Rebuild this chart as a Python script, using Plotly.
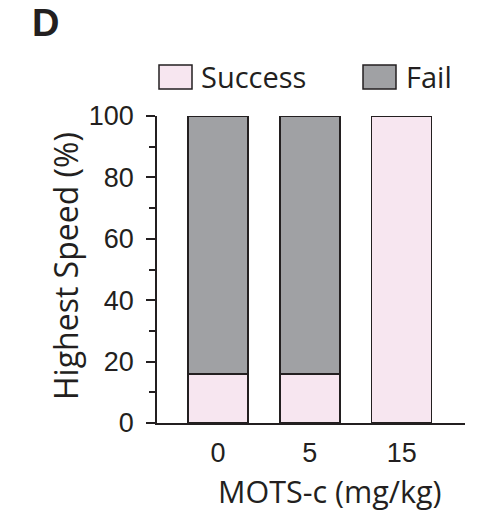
import plotly.graph_objects as go

# Dose groups and outcome percentages
doses = ["0", "5", "15"]
success_pct = [16, 16, 100]
fail_pct = [84, 84, 0]
y_ticks = [0, 20, 40, 60, 80, 100]

SUCCESS_COLOR = "#F7E6F0"
FAIL_COLOR = "#A0A1A4"
EDGE = "#231F20"
LABEL_FONT = "Open Sans"
TICK_FONT = "Liberation Sans"

fig = go.Figure()
fig.add_trace(go.Bar(
    x=doses, y=success_pct, name="Success",
    marker=dict(color=SUCCESS_COLOR, line=dict(color=EDGE, width=1.5)),
    width=0.655, showlegend=False,
))
fig.add_trace(go.Bar(
    x=doses, y=fail_pct, name="Fail",
    marker=dict(color=FAIL_COLOR, line=dict(color=EDGE, width=1.5)),
    width=0.655, showlegend=False,
))

L, R, T, B = 157, 19, 116, 95
W, H = 484, 518
pw, ph = W - L - R, H - T - B


def px_x(px):
    return (px - L) / pw


def px_y(py):
    return (H - B - py) / ph


shapes = []
annotations = []
# Legend swatches and labels
for x0, color, label, tx in [(159, SUCCESS_COLOR, "Success", 199), (363, FAIL_COLOR, "Fail", 404)]:
    shapes.append(dict(type="rect", xref="paper", yref="paper",
                       x0=px_x(x0), x1=px_x(x0 + 33), y0=px_y(89), y1=px_y(65),
                       fillcolor=color, line=dict(color=EDGE, width=1.5)))
    annotations.append(dict(text=label, xref="paper", yref="paper",
                            x=px_x(tx), y=px_y(77), xanchor="left", yanchor="middle",
                            showarrow=False, font=dict(family=LABEL_FONT, size=29, color="#231F20")))

# Panel letter
annotations.append(dict(text="<b>D</b>", xref="paper", yref="paper",
                        x=px_x(30), y=px_y(23), xanchor="left", yanchor="middle",
                        showarrow=False, font=dict(family="Liberation Sans", size=38, color="#231F20")))
# Axis titles
annotations.append(dict(text="Highest Speed (%)", xref="paper", yref="paper",
                        x=px_x(65), y=px_y(266), xanchor="center", yanchor="middle",
                        textangle=-90, showarrow=False,
                        font=dict(family=LABEL_FONT, size=32, color="#231F20")))
annotations.append(dict(text="MOTS-c (mg/kg)", xref="paper", yref="paper",
                        x=px_x(330), y=px_y(491), xanchor="center", yanchor="middle",
                        showarrow=False, font=dict(family=LABEL_FONT, size=30.5, color="#231F20")))

fig.update_layout(
    width=W, height=H,
    margin=dict(l=L, r=R, t=T, b=B),
    paper_bgcolor="white", plot_bgcolor="white",
    barmode="stack",
    shapes=shapes, annotations=annotations,
    xaxis=dict(
        type="category", range=[-0.665, 2.69],
        showline=True, linecolor=EDGE, linewidth=1.5,
        ticks="", showgrid=False, zeroline=False,
        tickfont=dict(family=TICK_FONT, size=27, color="#231F20"),
        ticklabelstandoff=5,
    ),
    yaxis=dict(
        range=[0, 100], tickvals=y_ticks,
        showline=True, linecolor=EDGE, linewidth=1.5,
        ticks="outside", ticklen=9, tickwidth=1.5, tickcolor=EDGE,
        minor=dict(dtick=10, tick0=0, ticks="outside", ticklen=6, tickwidth=1.5, tickcolor=EDGE),
        showgrid=False, zeroline=False,
        tickfont=dict(family=TICK_FONT, size=27, color="#231F20"),
        ticklabelstandoff=7,
    ),
)

fig.write_html("out.html")
